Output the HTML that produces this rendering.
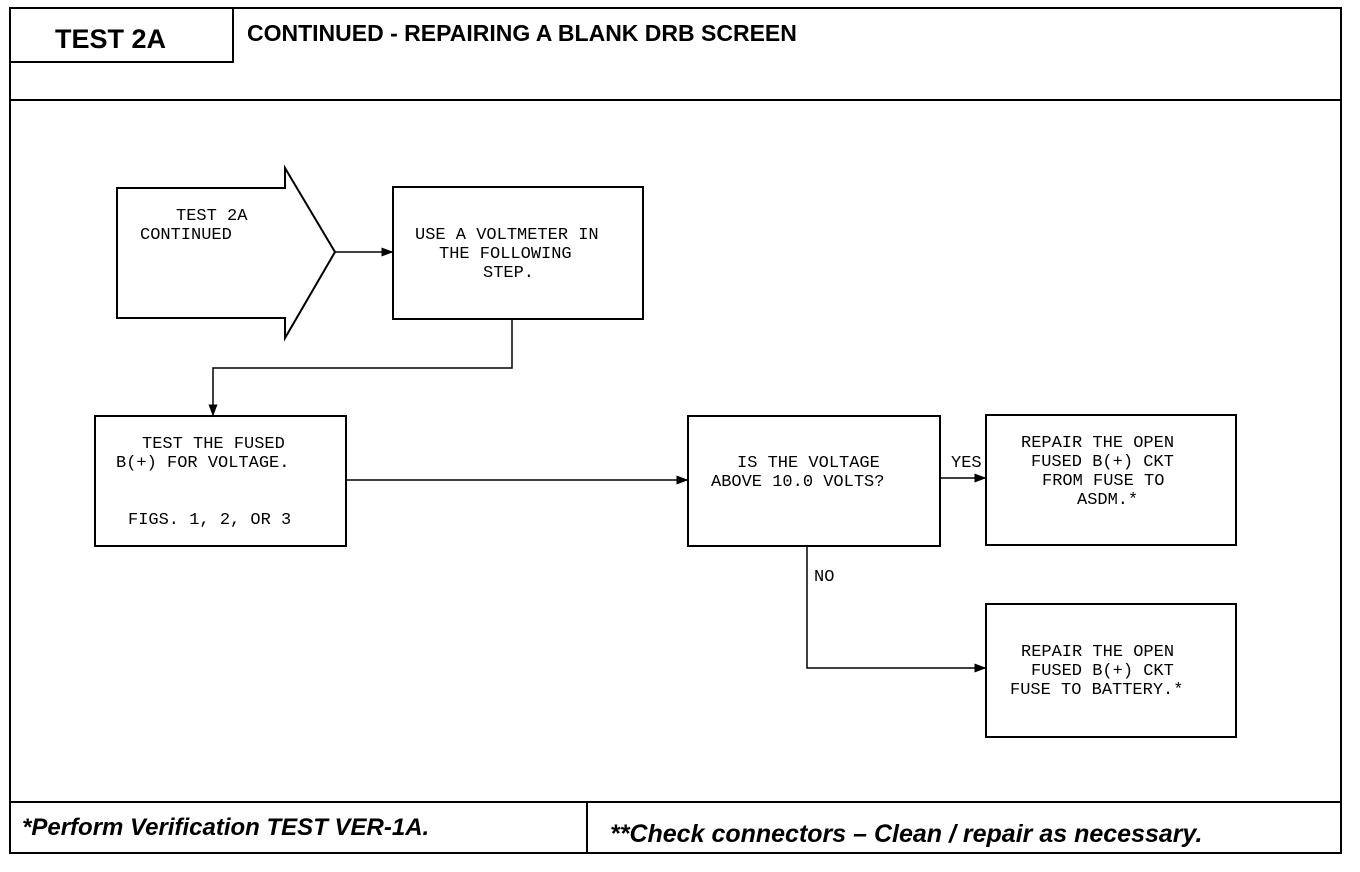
<!DOCTYPE html>
<html><head><meta charset="utf-8"><style>
html,body{margin:0;padding:0;background:#fff;width:1360px;height:872px;overflow:hidden}
svg text.m{font-family:"Liberation Mono",monospace;font-size:17px;fill:#000}
svg text.h{font-family:"Liberation Sans",sans-serif;font-weight:bold;fill:#000}
</style></head><body>
<svg width="1360" height="872" viewBox="0 0 1360 872" xmlns="http://www.w3.org/2000/svg">
<defs><marker id="a" markerWidth="8" markerHeight="8" refX="7" refY="4" orient="auto"><path d="M0,1 L8,4 L0,7 z" fill="#000"/></marker></defs>
<g fill="none" stroke="#000" stroke-width="2">
<rect x="10" y="8" width="1331" height="845"/>
<path d="M10,62 H233 V8"/>
<line x1="10" y1="100" x2="1341" y2="100"/>
<line x1="10" y1="802" x2="1341" y2="802"/>
<line x1="587" y1="802" x2="587" y2="853"/>
<path d="M117,188 H285 V168 L335,252 L285,338 V318 H117 Z"/>
<rect x="393" y="187" width="250" height="132"/>
<rect x="95" y="416" width="251" height="130"/>
<rect x="688" y="416" width="252" height="130"/>
<rect x="986" y="415" width="250" height="130"/>
<rect x="986" y="604" width="250" height="133"/>
<g stroke-width="1.5">
<line x1="335" y1="252" x2="392" y2="252" marker-end="url(#a)"/>
<path d="M512,319 V368 H213 V415" marker-end="url(#a)"/>
<line x1="346" y1="480" x2="687" y2="480" marker-end="url(#a)"/>
<line x1="940" y1="478" x2="985" y2="478" marker-end="url(#a)"/>
<path d="M807,546 V668 H985" marker-end="url(#a)"/>
</g>
</g>
<text class="h" x="55" y="48" font-size="27">TEST 2A</text>
<text class="h" x="247" y="41" font-size="23">CONTINUED - REPAIRING A BLANK DRB SCREEN</text>
<text class="h" x="22" y="835" font-size="24" font-style="italic">*Perform Verification TEST VER-1A.</text>
<text class="h" x="610" y="842" font-size="25" font-style="italic">**Check connectors – Clean / repair as necessary.</text>
<g class="m">
<text class="m" x="176" y="220">TEST 2A</text>
<text class="m" x="140" y="239">CONTINUED</text>
<text class="m" x="415" y="239">USE A VOLTMETER IN</text>
<text class="m" x="439" y="258">THE FOLLOWING</text>
<text class="m" x="483" y="277">STEP.</text>
<text class="m" x="142" y="448">TEST THE FUSED</text>
<text class="m" x="116" y="467">B(+) FOR VOLTAGE.</text>
<text class="m" x="128" y="524">FIGS. 1, 2, OR 3</text>
<text class="m" x="737" y="467">IS THE VOLTAGE</text>
<text class="m" x="711" y="486">ABOVE 10.0 VOLTS?</text>
<text class="m" x="951" y="467">YES</text>
<text class="m" x="814" y="581">NO</text>
<text class="m" x="1021" y="447">REPAIR THE OPEN</text>
<text class="m" x="1031" y="466">FUSED B(+) CKT</text>
<text class="m" x="1042" y="485">FROM FUSE TO</text>
<text class="m" x="1077" y="504">ASDM.*</text>
<text class="m" x="1021" y="656">REPAIR THE OPEN</text>
<text class="m" x="1031" y="675">FUSED B(+) CKT</text>
<text class="m" x="1010" y="694">FUSE TO BATTERY.*</text>
</g>
</svg>
</body></html>
